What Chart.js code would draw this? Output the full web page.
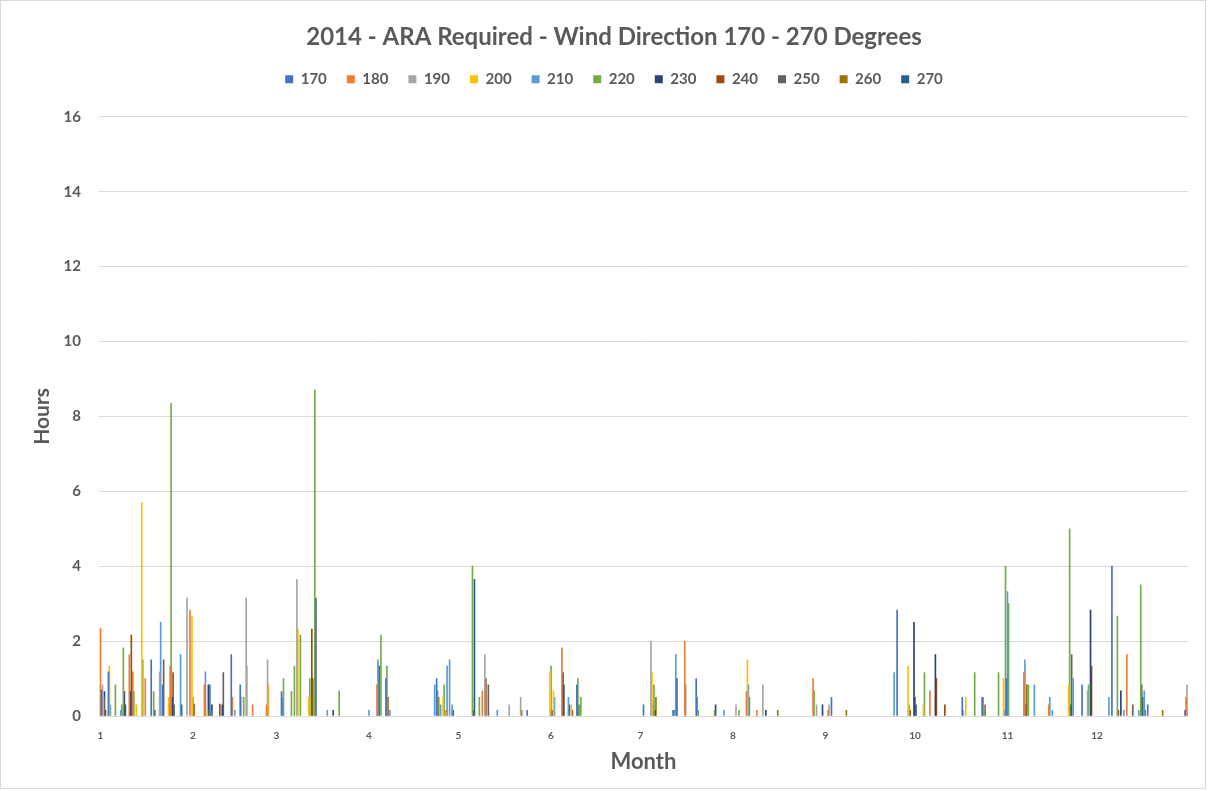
<!DOCTYPE html>
<html>
<head>
<meta charset="utf-8">
<script src="https://cdn.jsdelivr.net/npm/chart.js@4/dist/chart.umd.min.js"></script>
<style>
  body { margin: 0; background: #fff; }
  #wind-chart { display: block; }
</style>
</head>
<body>
<canvas id="wind-chart" width="1208" height="791"></canvas>
<script>
// month number shown under the first day of each month
const monthLabels = ["1", "2", "3", "4", "5", "6", "7", "8", "9", "10", "11", "12"];
const monthStartDays = [1, 32, 60, 91, 121, 152, 182, 213, 244, 274, 305, 335];
const dayCount = 365;

const seriesNames = ["170", "180", "190", "200", "210", "220", "230", "240", "250", "260", "270"];

// [day of year, hours]
const s170 = [[2, 0.7], [4, 1.18], [18, 1.5], [22, 0.83], [38, 0.83], [45, 1.64], [48, 0.83], [62, 0.65], [97, 1.0], [114, 1.0], [144, 0.15], [161, 0.83], [183, 0.3], [201, 1.0], [246, 0.5], [268, 2.83], [290, 0.5], [297, 0.5], [305, 1.0], [330, 0.83], [340, 4.0], [352, 0.3], [365, 0.15]];
const s180 = [[1, 2.35], [11, 1.64], [12, 1.18], [16, 1.0], [25, 1.33], [31, 2.83], [36, 0.83], [45, 0.5], [52, 0.3], [57, 0.3], [94, 0.83], [117, 0.15], [129, 0.67], [156, 1.82], [197, 2.0], [218, 0.65], [221, 0.15], [240, 1.0], [245, 0.15], [279, 0.67], [311, 1.16], [319, 0.3], [345, 1.64], [365, 0.5]];
const s190 = [[2, 0.83], [21, 1.18], [30, 3.15], [50, 3.15], [57, 1.5], [67, 3.65], [130, 1.64], [138, 0.3], [142, 0.5], [186, 2.0], [197, 0.83], [214, 0.3], [223, 0.83], [241, 0.3], [245, 0.3], [290, 0.15], [332, 0.67], [365, 0.83]];
const s200 = [[2, 0.5], [4, 1.33], [13, 0.3], [15, 5.7], [24, 0.5], [32, 2.67], [37, 0.15], [48, 0.5], [50, 1.33], [57, 0.83], [67, 2.32], [71, 0.5], [116, 0.5], [152, 1.18], [153, 0.67], [159, 0.3], [186, 1.18], [218, 1.5], [272, 1.33], [277, 0.3], [291, 0.5], [304, 1.0], [326, 0.83]];
const s210 = [[4, 0.3], [8, 0.15], [21, 2.5], [24, 0.3], [28, 1.64], [36, 1.18], [46, 0.15], [62, 0.5], [77, 0.15], [91, 0.15], [94, 1.5], [98, 0.15], [113, 0.83], [115, 0.3], [117, 1.33], [118, 1.5], [119, 0.3], [134, 0.15], [153, 0.5], [158, 0.5], [186, 0.3], [193, 0.15], [194, 1.64], [201, 0.5], [210, 0.15], [218, 0.83], [267, 1.16], [272, 0.3], [297, 0.5], [304, 0.15], [305, 3.32], [311, 1.5], [314, 0.83], [319, 0.5], [320, 0.15], [327, 1.0], [339, 0.5], [344, 0.15], [349, 0.15], [351, 0.67]];
const s220 = [[6, 0.83], [8, 0.3], [9, 1.82], [12, 0.65], [15, 1.5], [19, 0.65], [25, 8.35], [32, 0.5], [38, 0.15], [49, 0.5], [62, 1.0], [65, 0.65], [66, 1.33], [68, 2.16], [71, 1.0], [73, 8.7], [81, 0.67], [95, 2.16], [97, 1.33], [114, 0.67], [116, 0.83], [126, 4.0], [128, 0.5], [152, 1.33], [161, 1.0], [162, 0.5], [186, 0.83], [201, 0.15], [207, 0.15], [215, 0.15], [218, 0.5], [240, 0.67], [277, 1.16], [294, 1.16], [297, 0.15], [302, 1.16], [304, 4.0], [305, 3.0], [312, 0.83], [326, 5.0], [332, 0.83], [342, 2.67], [350, 3.5], [365, 0.15]];
const s230 = [[2, 0.65], [9, 0.65], [11, 0.65], [19, 0.15], [25, 0.5], [28, 0.3], [37, 0.83], [38, 0.3], [42, 0.3], [73, 3.15], [79, 0.15], [94, 1.33], [119, 0.15], [152, 0.15], [156, 1.16], [187, 0.15], [194, 1.0], [207, 0.3], [224, 0.15], [243, 0.3], [274, 2.5], [281, 1.64], [326, 0.3], [333, 2.83], [343, 0.67]];
const s240 = [[2, 0.15], [11, 2.16], [25, 1.16], [32, 0.32], [41, 0.32], [72, 2.32], [97, 0.5], [126, 0.15], [130, 1.0], [159, 0.15], [272, 0.15], [274, 0.5], [281, 1.0], [284, 0.3], [311, 0.3], [333, 1.33], [342, 0.15]];
const s250 = [[22, 1.5], [25, 0.3], [42, 1.16], [131, 0.83], [156, 0.83], [161, 0.3], [326, 1.64], [347, 0.3], [350, 0.83]];
const s260 = [[72, 1.0], [114, 0.5], [142, 0.15], [187, 0.5], [228, 0.15], [251, 0.15], [297, 0.3], [311, 0.83], [351, 0.15], [357, 0.15]];
const s270 = [[9, 0.3], [126, 3.65], [158, 0.3], [193, 0.15], [274, 0.3], [350, 0.5]];

const seriesData = [s170, s180, s190, s200, s210, s220, s230, s240, s250, s260, s270];
const seriesColors = ["#4472C4", "#ED7D31", "#A5A5A5", "#FFC000", "#5B9BD5", "#70AD47",
  "#264478", "#9E480E", "#636363", "#997300", "#255E91"];

const days = [];
for (let d = 1; d <= dayCount; d++) days.push(d);

function expand(points) {
  const arr = new Array(dayCount).fill(null);
  points.forEach(([d, v]) => { arr[d - 1] = v; });
  return arr;
}

const textColor = "#595959";
const fontFamily = "Lato, 'Liberation Sans', sans-serif";

const frame = {
  id: "frame",
  afterInit(chart) {
    // leave some room between the legend and the plot
    const legend = chart.legend;
    const fit = legend.fit;
    legend.fit = function () {
      fit.call(this);
      this.height += 20;
    };
  },
  afterDraw(chart) {
    const ctx = chart.ctx;
    ctx.save();
    ctx.strokeStyle = "#d9d9d9";
    ctx.lineWidth = 1;
    ctx.strokeRect(0.5, 0.5, 1205, 788);
    ctx.restore();
  }
};

new Chart(document.getElementById("wind-chart"), {
  type: "bar",
  data: {
    labels: days,
    datasets: seriesNames.map((name, i) => ({
      label: name,
      data: expand(seriesData[i]),
      backgroundColor: seriesColors[i],
      borderWidth: 0,
      barThickness: 1,
    })),
  },
  options: {
    responsive: false,
    animation: false,
    skipNull: true,
    layout: { padding: { left: 30, right: 10, top: 10, bottom: 10 } },
    plugins: {
      title: {
        display: true,
        text: "2014 - ARA Required - Wind Direction 170 - 270 Degrees",
        color: textColor,
        font: { family: fontFamily, size: 24, weight: "bold" },
        padding: { top: 13, bottom: 0 },
      },
      legend: {
        labels: {
          color: textColor,
          font: { family: fontFamily, size: 15, weight: "bold" },
          boxWidth: 8,
          boxHeight: 8,
          padding: 20,
        },
      },
      tooltip: { enabled: false },
    },
    scales: {
      x: {
        grid: { display: false },
        border: { color: "#d9d9d9" },
        afterFit(scale) { scale.height = 65; },
        ticks: {
          autoSkip: false,
          maxRotation: 0,
          color: textColor,
          font: { family: fontFamily, size: 10, weight: "bold" },
          padding: 6,
          callback(value, index) {
            const m = monthStartDays.indexOf(index + 1);
            return m >= 0 ? monthLabels[m] : "";
          },
        },
        title: {
          display: true,
          text: "Month",
          color: textColor,
          font: { family: fontFamily, size: 22, weight: "bold" },
          padding: { top: 4, bottom: 6 },
        },
      },
      y: {
        min: 0,
        max: 16,
        afterFit(scale) { scale.width = 69; },
        grid: { color: "#d9d9d9", drawTicks: false },
        border: { display: false },
        ticks: {
          stepSize: 2,
          color: textColor,
          font: { family: fontFamily, size: 15, weight: "bold" },
          padding: 18,
        },
        title: {
          display: true,
          text: "Hours",
          color: textColor,
          font: { family: fontFamily, size: 21, weight: "bold" },
          padding: { top: 0, bottom: 4 },
        },
      },
      // empty spacer on the right so the plot ends where the reference does
      yRight: {
        position: "right",
        display: true,
        afterFit(scale) { scale.width = 10; },
        grid: { display: false },
        border: { display: false },
        ticks: { display: false },
      },
    },
  },
  plugins: [frame],
});
</script>
</body>
</html>
